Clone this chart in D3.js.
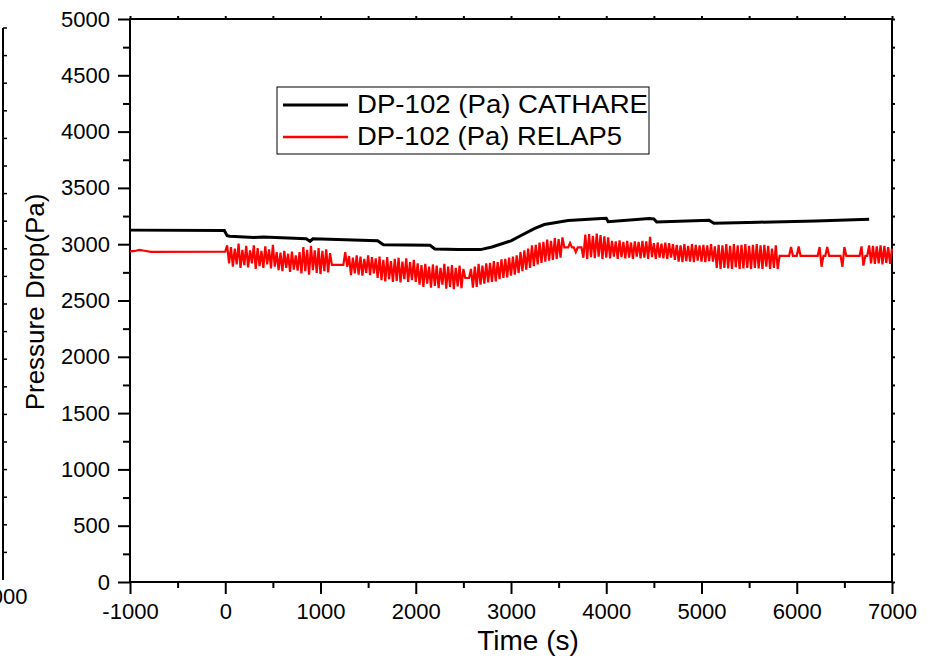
<!DOCTYPE html>
<html>
<head>
<meta charset="utf-8">
<script src="https://cdn.jsdelivr.net/npm/d3@7"></script>
<style>
  html, body { margin: 0; padding: 0; background: #fff; }
  svg text { font-family: "Liberation Sans", Arial, sans-serif; fill: #000; }
</style>
</head>
<body>
<svg id="chart" width="932" height="659"></svg>
<script>
// DP-102 pressure drop, CATHARE vs RELAP5
const xMajor = [-1000, 0, 1000, 2000, 3000, 4000, 5000, 6000, 7000];
const xMinor = [-500, 500, 1500, 2500, 3500, 4500, 5500, 6500];
const yMajor = [0, 500, 1000, 1500, 2000, 2500, 3000, 3500, 4000, 4500, 5000];
const yMinor = [250, 750, 1250, 1750, 2250, 2750, 3250, 3750, 4250, 4750];
const seriesNames = ['DP-102 (Pa) CATHARE', 'DP-102 (Pa) RELAP5'];

// CATHARE (black)
const cathareT = [-1000, -10, 20, 50, 300, 400, 850, 890, 920, 1600, 1660, 2150, 2200, 2450, 2680,
  2800, 3000, 3100, 3250, 3350, 3600, 3950, 4000, 4020, 4450, 4500, 4530, 5080, 5130, 5600, 6200, 6760];
const cathareP = [3125, 3122, 3075, 3070, 3060, 3065, 3048, 3025, 3048, 3030, 2995, 2990, 2958, 2952, 2952,
  2975, 3030, 3075, 3140, 3175, 3210, 3228, 3230, 3200, 3228, 3225, 3198, 3212, 3186, 3195, 3207, 3222];

// RELAP5 (red): steady part, then sampled every 20 s from t = 0
const relapHeadT = [-1000, -950, -900, -850, -780];
const relapHeadP = [2936, 2940, 2950, 2942, 2932];
const relapStep = 20;
const relapNoise = [
  2934, 2990, 2830, 2975, 2800, 2960, 2820, 3005, 2790, 2950,
  2815, 2985, 2795, 2945, 2830, 2990, 2780, 2965, 2805, 2940,
  2790, 2980, 2820, 2955, 2785, 2995, 2800, 2930, 2770, 2925,
  2760, 2940, 2790, 2915, 2755, 2935, 2775, 2900, 2765, 2930,
  2740, 2975, 2760, 2950, 2730, 2985, 2770, 2945, 2745, 2965,
  2735, 2940, 2760, 2955, 2750, 2920, 2817, 2817, 2817, 2817,
  2817, 2817, 2817, 2930, 2800, 2895, 2725, 2880, 2740, 2900,
  2730, 2890, 2720, 2870, 2745, 2900, 2725, 2885, 2740, 2875,
  2700, 2890, 2680, 2860, 2670, 2885, 2690, 2850, 2665, 2870,
  2675, 2880, 2660, 2845, 2690, 2875, 2665, 2840, 2680, 2860,
  2665, 2830, 2640, 2815, 2620, 2825, 2650, 2800, 2615, 2820,
  2630, 2810, 2610, 2790, 2640, 2825, 2605, 2800, 2620, 2815,
  2600, 2790, 2625, 2810, 2610, 2780, 2700, 2700, 2700, 2780,
  2615, 2800, 2620, 2825, 2640, 2810, 2650, 2830, 2660, 2835,
  2665, 2850, 2670, 2840, 2690, 2865, 2700, 2870, 2705, 2880,
  2720, 2890, 2730, 2900, 2745, 2930, 2760, 2945, 2775, 2960,
  2790, 2990, 2805, 2995, 2820, 3015, 2835, 3020, 2845, 3040,
  2855, 3030, 2860, 3055, 2870, 3045, 2880, 3060, 2971, 2971,
  2971, 3010, 2971, 2971, 2930, 2971, 2971, 2971, 2880, 3085,
  2870, 3090, 2885, 3075, 2875, 3095, 2890, 3080, 2870, 3070,
  2880, 3060, 2875, 3030, 2890, 3025, 2870, 3035, 2885, 3020,
  2875, 3030, 2880, 3015, 2870, 3025, 2890, 3020, 2875, 3030,
  2880, 3025, 2870, 3066, 2885, 3010, 2870, 3015, 2880, 3005,
  2875, 3015, 2870, 3010, 2880, 3000, 2860, 2995, 2845, 2990,
  2840, 3000, 2850, 2985, 2845, 3000, 2840, 2995, 2855, 2990,
  2845, 2995, 2840, 2990, 2850, 3000, 2845, 2980, 2790, 2995,
  2780, 2990, 2790, 3000, 2785, 2985, 2780, 3000, 2795, 2990,
  2780, 2995, 2785, 3000, 2790, 2985, 2780, 2995, 2790, 3000,
  2785, 2990, 2780, 2995, 2800, 2985, 2780, 2960, 2790, 2990,
  2780, 2897, 2897, 2897, 2897, 2897, 2897, 2975, 2897, 2897,
  2897, 2980, 2897, 2897, 2897, 2897, 2897, 2897, 2897, 2897,
  2897, 2897, 2975, 2800, 2897, 2897, 2975, 2897, 2897, 2897,
  2897, 2897, 2897, 2897, 2800, 2975, 2897, 2897, 2897, 2897,
  2897, 2897, 2897, 2897, 2980, 2810, 2897, 2897, 2990, 2830,
  2985, 2825, 2980, 2830, 2990, 2820, 2985, 2835, 2975, 2825,
  2960
];

const svg = d3.select('#chart');
const L = 130, R = 892, T = 19, B = 582;
const x = d3.scaleLinear().domain([-1000, 7000]).range([L, R]);
const y = d3.scaleLinear().domain([0, 5000]).range([B, T]);
const plain = d => String(d);   // hyphen minus like the original

// ghost axis of the neighbouring plot, cut by the left edge
const gx = d3.scaleLinear().domain([0, 20]).range([580, 28]);
svg.append('line').attr('x1', 3).attr('x2', 3).attr('y1', gx(0)).attr('y2', gx(20))
  .attr('stroke', '#000').attr('stroke-width', 2);
svg.append('g').selectAll('line').data(d3.range(1, 21)).join('line')
  .attr('x1', 3).attr('x2', 7).attr('y1', d => gx(d)).attr('y2', d => gx(d))
  .attr('stroke', '#000').attr('stroke-width', 1.5);
svg.append('text').attr('x', 3).attr('y', 604).attr('text-anchor', 'middle')
  .attr('font-size', 22).text('7000');

// axes
function styleAxis(g) {
  g.select('.domain').remove();
  g.selectAll('line').attr('stroke', '#000').attr('stroke-width', 2);
  g.selectAll('text').attr('font-size', 22).attr('font-family', '"Liberation Sans", Arial, sans-serif');
}
svg.append('g').attr('transform', `translate(0,${B})`)
  .call(d3.axisBottom(x).tickValues(xMajor).tickSize(12).tickPadding(9).tickFormat(plain)).call(styleAxis);
svg.append('g').attr('transform', `translate(0,${B})`)
  .call(d3.axisBottom(x).tickValues(xMinor).tickSize(6).tickFormat('')).call(styleAxis);
svg.append('g').attr('transform', `translate(${L},0)`)
  .call(d3.axisLeft(y).tickValues(yMajor).tickSize(12).tickPadding(8).tickFormat(plain)).call(styleAxis);
svg.append('g').attr('transform', `translate(${L},0)`)
  .call(d3.axisLeft(y).tickValues(yMinor).tickSize(7).tickFormat('')).call(styleAxis);
svg.append('g').attr('transform', `translate(0,${T})`)
  .call(d3.axisTop(x).tickValues(xMajor.concat(xMinor)).tickSize(3).tickFormat('')).call(styleAxis);
svg.append('g').attr('transform', `translate(${R},0)`)
  .call(d3.axisRight(y).tickValues(yMajor.concat(yMinor)).tickSize(3).tickFormat('')).call(styleAxis);

svg.append('rect').attr('x', L).attr('y', T).attr('width', R - L).attr('height', B - T)
  .attr('fill', 'none').attr('stroke', '#000').attr('stroke-width', 2);

// axis titles
svg.append('text').attr('x', 528).attr('y', 650).attr('text-anchor', 'middle')
  .attr('font-size', 28).text('Time (s)');
svg.append('text').attr('transform', `translate(44,302) rotate(-90)`)
  .attr('text-anchor', 'middle').attr('font-size', 26).text('Pressure Drop(Pa)');

// series
const cathare = cathareT.map((t, i) => [t, cathareP[i]]);
const relap = relapHeadT.map((t, i) => [t, relapHeadP[i]])
  .concat(relapNoise.map((v, i) => [i * relapStep, v]));
const line = d3.line().x(d => x(d[0])).y(d => y(d[1]));

svg.append('path').datum(relap).attr('d', line)
  .attr('fill', 'none').attr('stroke', '#ff0000').attr('stroke-width', 2.2).attr('stroke-linejoin', 'miter');
svg.append('path').datum(cathare).attr('d', line)
  .attr('fill', 'none').attr('stroke', '#000').attr('stroke-width', 3);

// legend
const lg = svg.append('g');
lg.append('rect').attr('x', 277).attr('y', 87).attr('width', 372).attr('height', 67)
  .attr('fill', '#fff').attr('stroke', '#000').attr('stroke-width', 1);
const legendColors = ['#000', '#ff0000'];
const legendWidths = [291, 265];
seriesNames.forEach((name, i) => {
  const ly = 105 + i * 32;
  lg.append('line').attr('x1', 283).attr('x2', 348).attr('y1', ly).attr('y2', ly)
    .attr('stroke', legendColors[i]).attr('stroke-width', i === 0 ? 3 : 2.5);
  lg.append('text').attr('x', 357).attr('y', 113 + i * 32).attr('font-size', 25)
    .attr('textLength', legendWidths[i]).attr('lengthAdjust', 'spacingAndGlyphs').text(name);
});
</script>
</body>
</html>
